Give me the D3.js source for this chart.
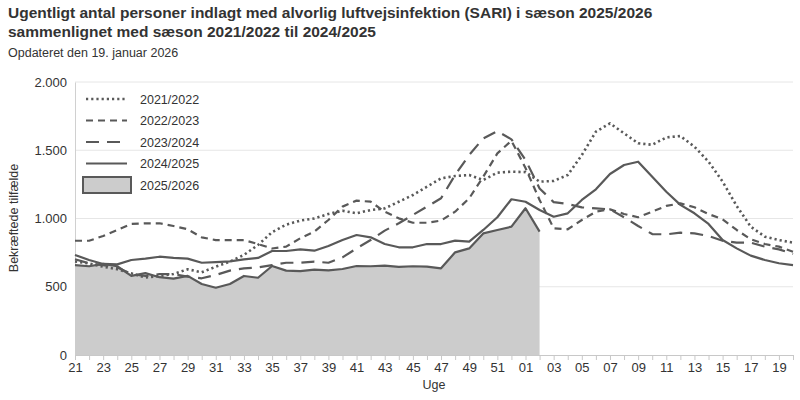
<!DOCTYPE html>
<html><head><meta charset="utf-8">
<script src="https://cdn.jsdelivr.net/npm/d3@7/dist/d3.min.js"></script>
<style>
body{margin:0;background:#fff;font-family:"Liberation Sans",Arial,sans-serif;}
</style></head>
<body><svg id="c" width="800" height="400"></svg>
<script>
const weeks = ["21","22","23","24","25","26","27","28","29","30","31","32","33","34","35","36","37","38","39","40","41","42","43","44","45","46","47","48","49","50","51","52","01","02","03","04","05","06","07","08","09","10","11","12","13","14","15","16","17","18","19","20"];
const s2122 = [685,670,647,628,598,567,579,593,628,606,647,684,733,806,900,955,985,1000,1033,1057,1038,1062,1074,1123,1172,1233,1294,1311,1319,1282,1336,1343,1340,1270,1275,1319,1465,1636,1697,1624,1551,1540,1594,1604,1526,1416,1270,1092,940,867,842,823];
const s2223 = [837,837,872,916,960,965,965,945,921,862,842,842,842,813,780,794,855,904,989,1087,1131,1123,1050,1001,969,969,985,1050,1148,1306,1477,1570,1370,1136,928,921,989,1050,1067,1033,1009,1050,1092,1111,1082,1033,994,916,848,813,794,757];
const s2324 = [701,672,659,642,593,579,593,593,574,562,586,618,635,642,659,676,676,684,676,715,781,842,911,965,1026,1087,1148,1319,1465,1587,1640,1580,1430,1220,1120,1106,1082,1074,1067,1009,945,886,884,896,891,872,837,823,823,794,774,740];
const s2425 = [733,696,667,664,696,706,720,711,706,676,681,686,701,711,762,762,774,764,799,842,879,862,813,789,789,813,813,838,830,916,1009,1141,1123,1062,1013,1038,1136,1214,1326,1392,1416,1306,1196,1100,1038,960,842,781,728,696,672,659];
const s2526 = [659,650,667,650,580,600,570,560,580,520,493,520,579,566,652,618,615,625,620,630,652,650,655,645,650,648,635,752,781,891,916,940,1075,904];
const seasonNames = ["2021/2022","2022/2023","2023/2024","2024/2025","2025/2026"];
const yTicks = [0,500,1000,1500,2000];

const svg = d3.select("#c");
const col = "#595959";
const x = d3.scaleLinear().domain([0, weeks.length-1]).range([75, 793]);
const y = d3.scaleLinear().domain([0, 2000]).range([355, 82]);
const loc = d3.formatLocale({decimal:",", thousands:".", grouping:[3], currency:["",""]});
const fmt = loc.format(",d");

// title
svg.append("text").attr("x",8).attr("y",18).attr("font-size","15.5px").attr("font-weight","bold").attr("fill","#333")
  .text("Ugentligt antal personer indlagt med alvorlig luftvejsinfektion (SARI) i sæson 2025/2026");
svg.append("text").attr("x",8).attr("y",37).attr("font-size","15.5px").attr("font-weight","bold").attr("fill","#333")
  .text("sammenlignet med sæson 2021/2022 til 2024/2025");
svg.append("text").attr("x",8).attr("y",57).attr("font-size","12.5px").attr("fill","#333")
  .text("Opdateret den 19. januar 2026");

// grid
svg.append("g").selectAll("line").data(yTicks.filter(d=>d>0)).join("line")
  .attr("x1",75).attr("x2",793).attr("y1",d=>y(d)).attr("y2",d=>y(d))
  .attr("stroke","#e6e6e6").attr("stroke-width",1);

// y axis
const ya = svg.append("g").attr("transform","translate(75,0)")
  .call(d3.axisLeft(y).tickValues(yTicks).tickFormat(fmt).tickSize(0).tickPadding(8));
ya.select(".domain").attr("stroke","#d0d0d0");
ya.selectAll("text").attr("font-size","13px").attr("fill","#333").attr("font-family","Liberation Sans, Arial, sans-serif");

svg.append("text").attr("transform","translate(18,218) rotate(-90)").attr("text-anchor","middle")
  .attr("font-size","12.5px").attr("fill","#333").text("Bekræftede tilfælde");

// area 2025/2026
const area = d3.area().x((d,i)=>x(i)).y0(y(0)).y1(d=>y(d));
svg.append("path").datum(s2526).attr("d",area).attr("fill","#cccccc");

const line = d3.line().x((d,i)=>x(i)).y(d=>y(d));
const styles = [
  {data:s2122, dash:"2.2,3", cap:"butt", w:2.6},
  {data:s2223, dash:"7,5", cap:"butt", w:2.2},
  {data:s2324, dash:"13,8", cap:"butt", w:2.2},
  {data:s2425, dash:null, cap:"butt", w:2.2},
  {data:s2526, dash:null, cap:"butt", w:2.2}
];
styles.forEach(s=>{
  svg.append("path").datum(s.data).attr("d",line).attr("fill","none").attr("stroke",col)
    .attr("stroke-width",s.w).attr("stroke-dasharray",s.dash).attr("stroke-linejoin","round");
});

// x axis
const xa = svg.append("g").attr("transform","translate(0,355)")
  .call(d3.axisBottom(x).tickValues(d3.range(weeks.length)).tickSize(5).tickPadding(3)
    .tickFormat((d,i)=> i%2===0 ? weeks[d] : ""));
xa.select(".domain").attr("stroke","#c8c8c8").attr("d","M75,0.5H793");
xa.selectAll(".tick line").attr("stroke","#c8c8c8");
xa.selectAll("text").attr("font-size","13px").attr("fill","#333").attr("font-family","Liberation Sans, Arial, sans-serif");
svg.append("text").attr("x",434).attr("y",389).attr("text-anchor","middle").attr("font-size","12.5px").attr("fill","#333").text("Uge");

// legend
const lg = svg.append("g");
seasonNames.forEach((n,i)=>{
  const yy = 99 + i*21.5;
  const s = styles[i];
  if(i<4){
    lg.append("line").attr("x1",86).attr("x2",127).attr("y1",yy).attr("y2",yy).attr("stroke",col)
      .attr("stroke-width",s.w).attr("stroke-dasharray",s.dash);
  } else {
    lg.append("rect").attr("x",83).attr("y",yy-8).attr("width",48).attr("height",16)
      .attr("fill","#cccccc").attr("stroke",col).attr("stroke-width",2);
  }
  lg.append("text").attr("x",140).attr("y",yy+4.5).attr("font-size","12.5px").attr("fill","#333").text(n);
});
</script></body></html>
